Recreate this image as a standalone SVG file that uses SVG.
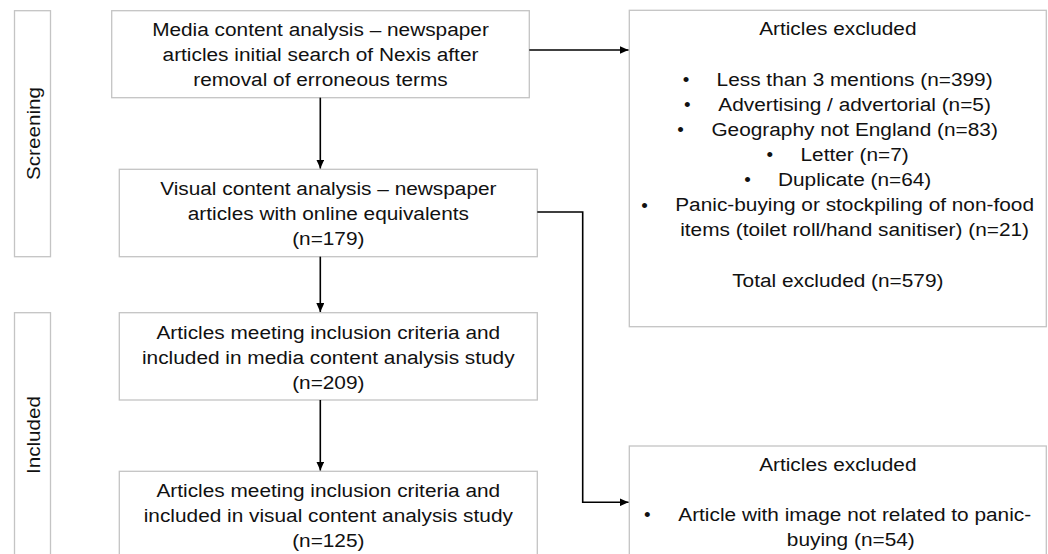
<svg xmlns="http://www.w3.org/2000/svg" width="1048" height="554" viewBox="0 0 1048 554">
<defs>
<style>
.box{fill:#fff;stroke:#c4c4c4;stroke-width:1.3}
.t{font-family:"Liberation Sans",Arial,sans-serif;font-size:18.8px;fill:#111;text-anchor:middle}
.b{font-family:"Liberation Sans",Arial,sans-serif;font-size:18.8px;fill:#111;text-anchor:middle}
.c{fill:none;stroke:#000;stroke-width:1.6}
</style>
<marker id="ah" viewBox="0 0 10 10" refX="10" refY="5" markerWidth="9" markerHeight="8" orient="auto" markerUnits="userSpaceOnUse" preserveAspectRatio="none">
<path d="M0,0 L10,5 L0,10 z" fill="#000"/>
</marker>
</defs>
<rect width="1048" height="554" fill="#fff"/>

<g id="stage-screening">
<rect class="box" x="14.5" y="10.7" width="36" height="246"/>
<text class="t" transform="translate(39.5 133.5) rotate(-90) scale(1.1 1)" x="0" y="0">Screening</text>
</g>

<g id="stage-included">
<rect class="box" x="14.5" y="312.7" width="36" height="250"/>
<text class="t" transform="translate(39.5 435) rotate(-90) scale(1.1 1)" x="0" y="0">Included</text>
</g>

<g id="node-media">
<rect class="box" x="111.7" y="10.7" width="417.6" height="87"/>
<g transform="translate(320.5 0) scale(1.108 1)">
<text class="t" x="0" y="36">Media content analysis – newspaper</text>
<text class="t" x="0" y="61.5">articles initial search of Nexis after</text>
<text class="t" x="0" y="86.5">removal of erroneous terms</text>
</g>
</g>

<g id="node-visual">
<rect class="box" x="119.3" y="169.3" width="418" height="87.4"/>
<g transform="translate(328.3 0) scale(1.108 1)">
<text class="t" x="0" y="195.5">Visual content analysis – newspaper</text>
<text class="t" x="0" y="220.5">articles with online equivalents</text>
<text class="t" x="0" y="245">(n=179)</text>
</g>
</g>

<g id="node-included-media">
<rect class="box" x="119.3" y="312.7" width="418" height="87.3"/>
<g transform="translate(328.3 0) scale(1.108 1)">
<text class="t" x="0" y="339">Articles meeting inclusion criteria and</text>
<text class="t" x="0" y="364">included in media content analysis study</text>
<text class="t" x="0" y="389">(n=209)</text>
</g>
</g>

<g id="node-included-visual">
<rect class="box" x="119.3" y="471.3" width="418" height="95"/>
<g transform="translate(328.3 0) scale(1.108 1)">
<text class="t" x="0" y="497.5">Articles meeting inclusion criteria and</text>
<text class="t" x="0" y="522.5">included in visual content analysis study</text>
<text class="t" x="0" y="547.5">(n=125)</text>
</g>
</g>

<g id="node-excluded-1">
<rect class="box" x="629.3" y="10.3" width="417" height="316.4"/>
<g transform="translate(837.8 0) scale(1.108 1)">
<text class="t" x="0" y="35">Articles excluded</text>
<text class="t" x="0" y="287">Total excluded (n=579)</text>
</g>
<g transform="translate(854.6 0) scale(1.108 1)">
<text class="t" x="0" y="86">Less than 3 mentions (n=399)</text>
<text class="t" x="0" y="111">Advertising / advertorial (n=5)</text>
<text class="t" x="0" y="136">Geography not England (n=83)</text>
<text class="t" x="0" y="161">Letter (n=7)</text>
<text class="t" x="0" y="186">Duplicate (n=64)</text>
<text class="t" x="0" y="211.5">Panic-buying or stockpiling of non-food</text>
<text class="t" x="0" y="236.5">items (toilet roll/hand sanitiser) (n=21)</text>
</g>
<text class="b" x="686" y="86">•</text>
<text class="b" x="687.3" y="111">•</text>
<text class="b" x="680.6" y="136">•</text>
<text class="b" x="769.8" y="161">•</text>
<text class="b" x="747.6" y="186">•</text>
<text class="b" x="644.6" y="211.5">•</text>
</g>

<g id="node-excluded-2">
<rect class="box" x="629.3" y="446" width="417" height="120"/>
<g transform="translate(837.8 0) scale(1.108 1)">
<text class="t" x="0" y="471">Articles excluded</text>
</g>
<g transform="translate(854.7 0) scale(1.108 1)">
<text class="t" x="0" y="521">Article with image not related to panic-</text>
</g>
<g transform="translate(850.8 0) scale(1.108 1)">
<text class="t" x="0" y="546">buying (n=54)</text>
</g>
<text class="b" x="647.3" y="521">•</text>
</g>

<g id="connectors">
<path class="c" d="M529.3,50 H628.5" marker-end="url(#ah)"/>
<path class="c" d="M537.3,212 H582.7 V502.3 H628.5" marker-end="url(#ah)"/>
<path class="c" d="M320.3,97.7 V168.5" marker-end="url(#ah)"/>
<path class="c" d="M320.3,256.7 V312" marker-end="url(#ah)"/>
<path class="c" d="M320.3,400 V470.5" marker-end="url(#ah)"/>
</g>
</svg>
